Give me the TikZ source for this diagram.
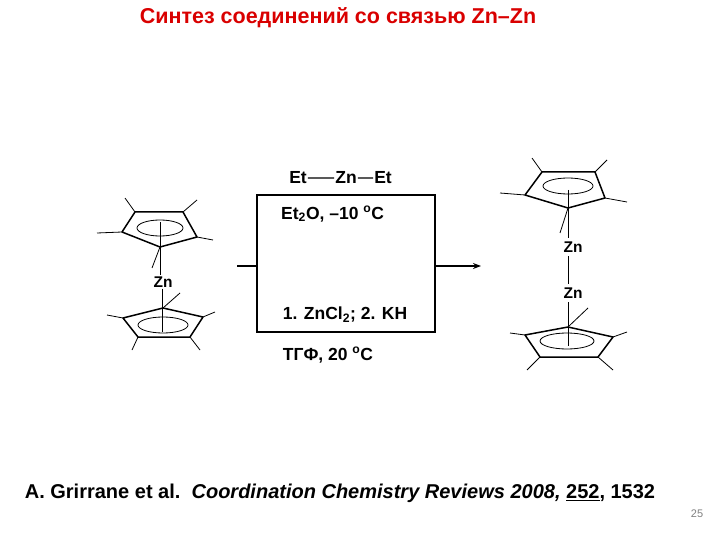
\documentclass[tikz,border=0pt]{standalone}
\usepackage{fontspec}
\setmainfont{Liberation Sans}
\usetikzlibrary{arrows.meta}
\begin{document}
\begin{tikzpicture}[x=1pt,y=-1pt,
  lbl/.style={font=\fontsize{17.5}{20}\selectfont\bfseries,inner sep=1pt},
  zl/.style={font=\fontsize{15.5}{18}\selectfont\bfseries,inner sep=1pt},
  ring/.style={line width=1.5pt,line join=round},
  bond/.style={line width=0.8pt}]
\useasboundingbox (0,0) rectangle (720,540);
\node[text=red!85!black,font=\fontsize{21.5}{25}\selectfont\bfseries] (title) at (338,18) {Синтез соединений со связью Zn–Zn};
% left molecule
\draw[ring] (160,247)--(122,232)--(135,212)--(183,212)--(197,237)--cycle;
\draw[bond] (160,228) ellipse (23 and 8);
\draw[bond] (135,212)--(125,198) (183,212)--(197,200) (197,237)--(213,240) (122,232)--(97,233) (160,247)--(152,268);
\node[zl] (zL) at (163,282) {Zn};
\draw[bond] (160,222)--(zL.north-|160,0);
\draw[ring] (163,308)--(203,317)--(190,337)--(138,337)--(123,318)--cycle;
\draw[bond] (163,325) ellipse (25 and 8);
\draw[bond] (163,308)--(180,293) (203,317)--(215,312) (190,337)--(200,350) (138,337)--(132,350) (123,318)--(107,315);
\draw[bond] (zL.south-|162,0)--(162,332);
% centre
\node[lbl,anchor=base] (et1) at (298,184) {Et};
\node[lbl,anchor=base] (zn) at (346,184) {Zn};
\node[lbl,anchor=base] (et2) at (383,184) {Et};
\draw[line width=1.2pt] (et1.east)--(zn.west) (zn.east)--(et2.west);
\node[draw,line width=1.5pt,minimum width=178pt,minimum height=137pt] (box) at (346,263.5) {};
\node[lbl,anchor=west] (c1) at (280,214) {Et\textsubscript{2}O, –10 \textsuperscript{o}C};
\node[lbl] (c2) at (345,315) {1. ZnCl\textsubscript{2}; 2. KH};
\node[lbl] (c3) at (328,355) {ТГФ, 20 \textsuperscript{o}C};
\coordinate (in) at (237,266);
\coordinate (out) at (481,266);
\draw[line width=1.5pt] (in)--(box.west|-in);
\draw[line width=1.5pt,-{Stealth[length=8pt]}] (box.east|-out)--(out);
% right molecule
\draw[ring] (568,208)--(525,195)--(542,172)--(595,172)--(605,198)--cycle;
\draw[bond] (568,186) ellipse (25 and 8);
\draw[bond] (542,172)--(532,158) (595,172)--(607,160) (605,198)--(627,202) (525,195)--(500,193) (568,208)--(560,233);
\node[zl] (z1) at (573,247) {Zn};
\node[zl] (z2) at (573,293) {Zn};
\draw[bond] (568,190)--(568,238);
\draw[bond] (568,256)--(568,284);
\draw[ring] (568,327)--(613,337)--(598,357)--(540,357)--(525,335)--cycle;
\draw[bond] (567,341) ellipse (27 and 8);
\draw[bond] (568,327)--(588,308) (613,337)--(627,332) (598,357)--(613,370) (540,357)--(527,370) (525,335)--(510,333);
\draw[bond] (568,302)--(568,346);
% footer
\node[font=\fontsize{20}{24}\selectfont\bfseries] (ref) at (340,493) {A. Grirrane et al.\ \ \textit{Coordination Chemistry Reviews 2008,} \underline{252}, 1532};
\node[text=gray,font=\fontsize{11}{13}\selectfont] (pg) at (697,514) {25};
\end{tikzpicture}
\end{document}
